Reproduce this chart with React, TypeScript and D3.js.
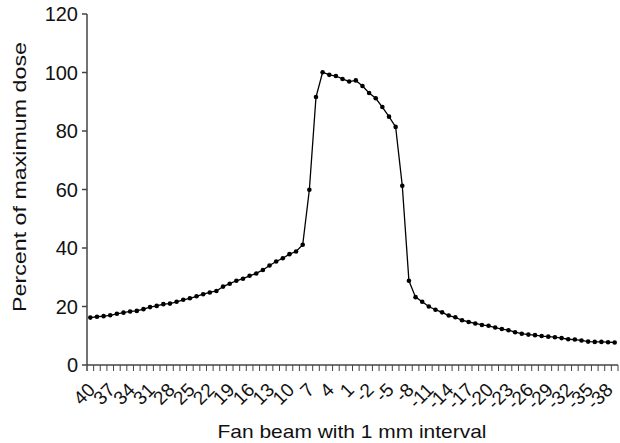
import * as d3 from "d3";
import { useRef, useEffect } from "react";

// fan beam position (mm), 40 down to -39
const positions: number[] = d3.range(40, -40, -1);

const dose: number[] = [
  16.2, 16.5, 16.7, 17.0, 17.5, 17.9, 18.3, 18.5, 19.1, 19.8,
  20.2, 20.8, 21.0, 21.6, 22.3, 22.8, 23.5, 24.2, 24.8, 25.3,
  26.8, 27.8, 28.8, 29.5, 30.5, 31.3, 32.5, 34.0, 35.4, 36.5,
  37.9, 38.8, 41.1, 59.9, 91.6, 100.1, 99.2, 98.8, 97.8, 96.9,
  97.3, 95.4, 93.0, 91.2, 88.2, 84.9, 81.4, 61.3, 28.8, 23.2,
  21.6, 20.0, 18.9, 18.0, 16.9, 16.3, 15.3, 14.7, 14.2, 13.7,
  13.4, 12.8, 12.3, 11.9, 11.2, 10.7, 10.4, 10.2, 9.9, 9.7,
  9.5, 9.2, 8.8, 8.7, 8.4, 8.0, 7.9, 7.9, 7.8, 7.7,
];

const yTicks: number[] = [0, 20, 40, 60, 80, 100, 120];

export default function App() {
  const ref = useRef<SVGSVGElement>(null);

  useEffect(() => {
    const width = 620;
    const height = 443;
    const m = { top: 14, right: 2, bottom: 78, left: 87 };

    const svg = d3.select(ref.current);
    svg.selectAll("*").remove();
    svg.attr("width", width).attr("height", height);

    const x = d3.scaleBand<number>()
      .domain(positions)
      .range([m.left, width - m.right])
      .padding(0);
    const y = d3.scaleLinear()
      .domain([0, 120])
      .range([height - m.bottom, m.top]);

    const font = "'Liberation Sans', Arial, sans-serif";
    const axisColor = "#444";
    const x0 = m.left;
    const yBase = y(0);

    // y axis
    svg.append("line")
      .attr("x1", x0).attr("x2", x0)
      .attr("y1", y(120)).attr("y2", yBase + 6)
      .attr("stroke", axisColor).attr("stroke-width", 1.5);
    yTicks.forEach(t => {
      svg.append("line")
        .attr("x1", x0 - 5).attr("x2", x0)
        .attr("y1", y(t)).attr("y2", y(t))
        .attr("stroke", axisColor).attr("stroke-width", 1.5);
      svg.append("text")
        .attr("x", x0 - 9).attr("y", y(t))
        .attr("dy", "0.36em")
        .attr("text-anchor", "end")
        .style("font-family", font)
        .style("font-size", "20px")
        .attr("fill", "#111")
        .text(t);
    });

    // x axis
    svg.append("line")
      .attr("x1", x0).attr("x2", width - m.right)
      .attr("y1", yBase).attr("y2", yBase)
      .attr("stroke", axisColor).attr("stroke-width", 1.5);
    const bw = x.bandwidth();
    positions.forEach((p, i) => {
      const xr = (x(p) as number) + bw;
      svg.append("line")
        .attr("x1", xr).attr("x2", xr)
        .attr("y1", yBase).attr("y2", yBase + 6)
        .attr("stroke", axisColor).attr("stroke-width", 1);
      if (i % 3 === 0) {
        const cx = (x(p) as number) + bw / 2 + 6;
        svg.append("text")
          .attr("transform", `translate(${cx},${yBase + 26}) rotate(-45)`)
          .attr("text-anchor", "end")
          .style("font-family", font)
          .style("font-size", "19px")
          .attr("fill", "#111")
          .text(p);
      }
    });

    // line + markers
    const pts = positions.map((p, i) => [(x(p) as number) + bw / 2, y(dose[i])] as [number, number]);
    svg.append("path")
      .attr("d", d3.line()(pts))
      .attr("fill", "none")
      .attr("stroke", "#000")
      .attr("stroke-width", 1.3);
    svg.selectAll("circle.pt")
      .data(pts)
      .enter()
      .append("circle")
      .attr("class", "pt")
      .attr("cx", d => d[0])
      .attr("cy", d => d[1])
      .attr("r", 2.3)
      .attr("fill", "#000");

    // titles
    svg.append("text")
      .attr("x", 352).attr("y", 438)
      .attr("text-anchor", "middle")
      .attr("textLength", 269)
      .attr("lengthAdjust", "spacingAndGlyphs")
      .style("font-family", font)
      .style("font-size", "19px")
      .attr("fill", "#111")
      .text("Fan beam with 1 mm interval");
    svg.append("text")
      .attr("transform", "translate(26,177) rotate(-90)")
      .attr("text-anchor", "middle")
      .attr("textLength", 270)
      .attr("lengthAdjust", "spacingAndGlyphs")
      .style("font-family", font)
      .style("font-size", "19px")
      .attr("fill", "#111")
      .text("Percent of maximum dose");
  }, []);

  return (
    <svg ref={ref} style={{ position: "absolute", left: 0, top: 0, background: "#fff" }}></svg>
  );
}
